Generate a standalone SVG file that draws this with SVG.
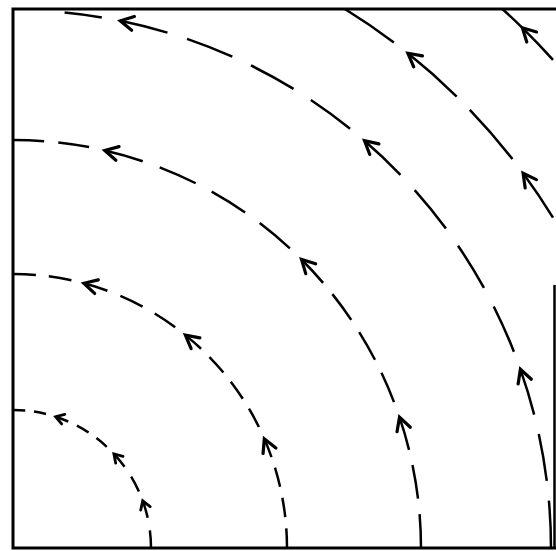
<svg xmlns="http://www.w3.org/2000/svg" width="556" height="551" viewBox="0 0 556 551">
<style>
.fr{fill:none;stroke:#000;stroke-width:3}
.a{fill:none;stroke:#000;stroke-width:2.5;stroke-linecap:butt}
.a1{stroke-dasharray:14 10}
.a2{stroke-dasharray:23 13}
.a3{stroke-dasharray:35 16}
.a4{stroke-dasharray:45 19}
.a5{stroke-dasharray:63 18}
.h{marker-start:url(#big)}
.hs{marker-start:url(#small)}
</style>
<defs>
<marker id="big" markerUnits="userSpaceOnUse" orient="auto-start-reverse" refX="0" refY="0" markerWidth="20" markerHeight="20" overflow="visible">
<polyline points="-13,-7 0,0 -13,7" fill="none" stroke="#000" stroke-width="3.2" stroke-linejoin="miter" stroke-linecap="round"/>
</marker>
<marker id="small" markerUnits="userSpaceOnUse" orient="auto-start-reverse" refX="0" refY="0" markerWidth="12" markerHeight="12" overflow="visible">
<polyline points="-8,-5 0,0 -8,5" fill="none" stroke="#000" stroke-width="2.8" stroke-linejoin="miter" stroke-linecap="round"/>
</marker>
</defs>
<g id="frame">
<path class="fr" d="M13,9 H556 M13,7.5 V549.5 M12,548 H556"/>
<path d="M554.5,285 V548" stroke="#000" stroke-width="2.5" fill="none"/>
</g>
<g id="connectors">
<g id="arc1">
<path class="a a1" pathLength="38" d="M13,410 A138,138 0 0 1 46,414"/>
<path class="a a1 hs" pathLength="62" d="M55.6,416.7 A138,138 0 0 1 106.8,446.8"/>
<path class="a a1 hs" pathLength="38" d="M113.9,453.9 A138,138 0 0 1 138.9,491.5"/>
<path class="a a1 hs" pathLength="38" d="M142.7,500.8 A138,138 0 0 1 151,548"/>
</g>
<g id="arc2">
<path class="a a2" pathLength="59" d="M13,274 A274,274 0 0 1 71.4,280.3"/>
<path class="a a2 h" pathLength="95" d="M83.9,283.3 A274,274 0 0 1 175.2,327.2"/>
<path class="a a2 h" pathLength="131" d="M185.4,335.1 A274,274 0 0 1 258.9,427"/>
<path class="a a2 h" pathLength="131" d="M264.3,438.8 A274,274 0 0 1 287,548"/>
</g>
<g id="arc3">
<path class="a a3" pathLength="86" d="M13,140 A408,408 0 0 1 89.1,147.1"/>
<path class="a a3 h" pathLength="188" d="M104.8,150.5 A408,408 0 0 1 289.9,248.4"/>
<path class="a a3 h" pathLength="188" d="M301.5,259.5 A408,408 0 0 1 394,402.1"/>
<path class="a a3 h" pathLength="137" d="M399.5,417.2 A408,408 0 0 1 421,548"/>
</g>
<g id="arc4">
<path class="a" d="M64.6,12.5 A538,538 0 0 1 101.8,17.4"/>
<path class="a a4 h" pathLength="237" d="M120.3,20.8 A538,538 0 0 1 350.1,128.7"/>
<path class="a a4 h" pathLength="237" d="M364.5,140.7 A538,538 0 0 1 513.9,351.7"/>
<path class="a a4 h" pathLength="173" d="M520.4,369.3 A538,538 0 0 1 551,548"/>
</g>
<g id="arc5">
<path class="a" d="M344.9,9 A633,633 0 0 1 393.9,42.5"/>
<path class="a a5 h" pathLength="144" d="M407.9,53.3 A633,633 0 0 1 512.5,159.1"/>
<path class="a h" d="M523.1,173.3 A633,633 0 0 1 553,217.7"/>
</g>
<g id="arc6">
<path class="a" d="M502.4,9 A728,728 0 0 1 522.4,27.8"/>
<path class="a h" d="M522.4,27.8 A728,728 0 0 1 553,59.8"/>
</g>
</g>
</svg>
